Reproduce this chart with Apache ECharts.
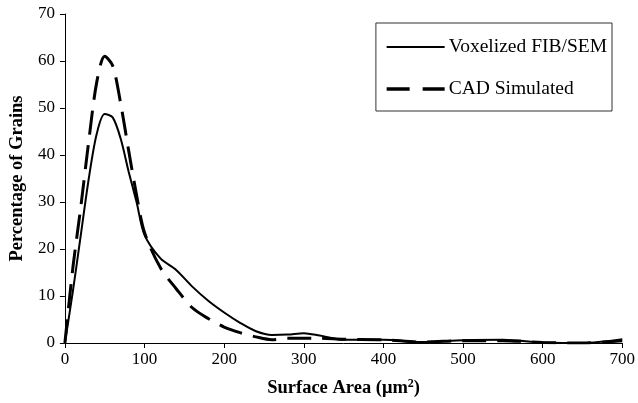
<!DOCTYPE html>
<html><head><meta charset="utf-8">
<script src="https://cdn.jsdelivr.net/npm/echarts@6/dist/echarts.min.js"></script>
<style>html,body{margin:0;padding:0;background:#fff}#c{width:638px;height:403px}</style>
</head><body><div id="c"></div>
<script>
const xValues = [0,10,20,30,40,50,60,70,80,90,100,120,140,160,180,200,220,240,260,280,300,320,350,400,450,500,550,600,650,700];
const voxelized = [0,11,23,35,44.5,48.7,48,43.5,36.5,30,23,18,15.5,12,9,6.5,4.3,2.5,1.7,1.8,2.1,1.6,0.7,0.7,0.2,0.6,0.7,0.1,0,0.8];
const cadSimulated = [0,16,29,43,55.5,61,59,51,41,31.5,23.5,16,11.5,7.5,5.2,3.4,2.2,1.3,0.7,1.0,1.0,1.0,0.8,0.7,0.2,0.5,0.5,0.1,0,0.5];
const seriesNames = ['Voxelized FIB/SEM','CAD Simulated'];
const xTitle = 'Surface Area (μm{sup|2})';
const yTitle = 'Percentage of Grains';

const font = 'Liberation Serif';
const chart = echarts.init(document.getElementById('c'), null, {renderer:'canvas'});
const pairs = ys => xValues.map((x,i)=>[x, ys[i]]);
chart.setOption({
  animation:false,
  backgroundColor:'#fff',
  grid:{left:63, right:13, top:14, bottom:59, containLabel:false},
  legend:{
    orient:'vertical', right:26, top:23,
    itemWidth:58, itemHeight:14, itemGap:22,
    padding:[14,5,12,9],
    borderColor:'#333', borderWidth:1,
    itemStyle:{opacity:0},
    textStyle:{fontFamily:font, fontSize:19.5, color:'#000', padding:[0,0,0,-1]},
    data:[
      {name:seriesNames[0], lineStyle:{width:2, color:'#000'}},
      {name:seriesNames[1], lineStyle:{width:3.5, color:'#000', type:[23,13]}}
    ]
  },
  xAxis:{
    type:'value', min:0, max:700, interval:100,
    axisLine:{lineStyle:{color:'#000', width:1}},
    axisTick:{length:5, lineStyle:{color:'#000'}},
    splitLine:{show:false},
    axisLabel:{fontFamily:font, fontSize:17, color:'#000', margin:8},
    name:xTitle, nameLocation:'middle', nameGap:35,
    nameTextStyle:{fontFamily:font, fontSize:18.5, fontWeight:'bold', color:'#000',
      rich:{sup:{fontFamily:font, fontSize:12, fontWeight:'bold', verticalAlign:'top', padding:[0,0,9,0]}}}
  },
  yAxis:{
    type:'value', min:0, max:70, interval:10,
    axisLine:{show:true, lineStyle:{color:'#000', width:1}},
    axisTick:{show:true, length:5, lineStyle:{color:'#000'}},
    splitLine:{show:false},
    axisLabel:{fontFamily:font, fontSize:17, color:'#000', margin:10},
    name:yTitle, nameLocation:'middle', nameGap:37,
    nameTextStyle:{fontFamily:font, fontSize:18.5, fontWeight:'bold', color:'#000'}
  },
  series:[
    {name:seriesNames[0], type:'line', data:pairs(voxelized), smooth:0.3, symbol:'none',
     lineStyle:{color:'#000', width:2}, itemStyle:{color:'#000'}},
    {name:seriesNames[1], type:'line', data:pairs(cadSimulated), smooth:0.3, symbol:'none',
     lineStyle:{color:'#000', width:3, type:[24,11]}, itemStyle:{color:'#000'}}
  ]
});
</script></body></html>
